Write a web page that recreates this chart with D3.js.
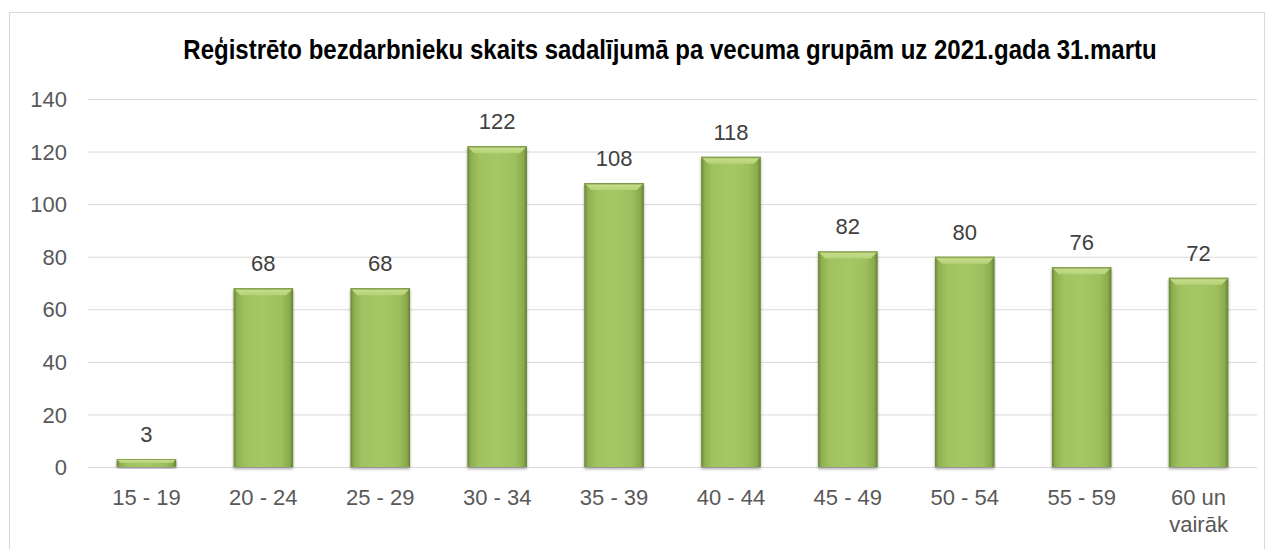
<!DOCTYPE html>
<html><head><meta charset="utf-8">
<script src="https://cdn.jsdelivr.net/npm/d3@7"></script>
<style>body{margin:0;background:#fff}svg{display:block}</style>
</head><body>
<svg id="c" width="1274" height="549"></svg>
<script>
const categories = ["15 - 19","20 - 24","25 - 29","30 - 34","35 - 39","40 - 44","45 - 49","50 - 54","55 - 59","60 un\nvairāk"];
const values = [3,68,68,122,108,118,82,80,76,72];
const yTicks = [0,20,40,60,80,100,120,140];
const title = "Reģistrēto bezdarbnieku skaits sadalījumā pa vecuma grupām uz 2021.gada 31.martu";

const svg = d3.select("#c");
const font = "'Liberation Sans', Arial, sans-serif";
svg.append("rect").attr("x",9.5).attr("y",12.5).attr("width",1255).attr("height",560)
  .attr("fill","#fff").attr("stroke","#d9d9d9");

const m = {left:88, right:1257, top:99, bottom:467};
const x = d3.scaleBand().domain(categories).range([m.left,m.right]).paddingInner(0.49).paddingOuter(0.245);
const y = d3.scaleLinear().domain([0,140]).range([m.bottom,m.top]);

const defs = svg.append("defs");
const g1 = defs.append("linearGradient").attr("id","gh").attr("x1","0").attr("x2","1").attr("y1","0").attr("y2","0");
[[0,"#6a8636"],[0.06,"#8fb050"],[0.2,"#a0c260"],[0.5,"#a6c766"],[0.8,"#9ebf5d"],[0.94,"#8aab4c"],[1,"#657f33"]]
  .forEach(([o,c])=>g1.append("stop").attr("offset",o).attr("stop-color",c));
const gt = defs.append("linearGradient").attr("id","gt").attr("x1","0").attr("x2","0").attr("y1","0").attr("y2","1");
[[0,"#6f8b3a"],[0.3,"#c4dc88"],[1,"#b5d277"]].forEach(([o,c])=>gt.append("stop").attr("offset",o).attr("stop-color",c));
const f = defs.append("filter").attr("id","sh").attr("x","-20%").attr("y","-20%").attr("width","140%").attr("height","140%");
f.append("feGaussianBlur").attr("in","SourceAlpha").attr("stdDeviation",1.5);
f.append("feOffset").attr("dx",0).attr("dy",1.5).attr("result","b");
f.append("feComponentTransfer").append("feFuncA").attr("type","linear").attr("slope",0.35);
const fm = f.append("feMerge"); fm.append("feMergeNode"); fm.append("feMergeNode").attr("in","SourceGraphic");

// grid
svg.append("g").selectAll("line").data(yTicks).join("line")
  .attr("x1",m.left).attr("x2",m.right).attr("y1",d=>y(d)+0.5).attr("y2",d=>y(d)+0.5)
  .attr("stroke","#d9d9d9").attr("stroke-width",1);

// y axis
const ya = svg.append("g").attr("transform",`translate(${m.left},0)`)
  .call(d3.axisLeft(y).tickValues(yTicks).tickSize(0).tickPadding(21));
ya.select(".domain").remove();
ya.selectAll("text").attr("font-family",font).attr("font-size",22).attr("fill","#595959").attr("dy","0.35em");

// bars
const bars = svg.append("g").selectAll("g").data(values).join("g").attr("filter","url(#sh)");
bars.append("rect").attr("x",(d,i)=>x(categories[i])).attr("y",d=>y(d)).attr("width",x.bandwidth())
  .attr("height",d=>y(0)-y(d)).attr("fill","url(#gh)");
bars.each(function(d,i){
  const x0 = x(categories[i]), w = x.bandwidth(), t = y(d), h = y(0)-y(d);
  const b = Math.min(7, h/2);
  d3.select(this).append("path")
    .attr("d",`M${x0},${t}L${x0+w},${t}L${x0+w-b},${t+b}L${x0+b},${t+b}Z`).attr("fill","url(#gt)");
});

// labels
svg.append("g").selectAll("text").data(values).join("text")
  .attr("x",(d,i)=>x(categories[i])+x.bandwidth()/2).attr("y",d=>y(d)-17)
  .attr("text-anchor","middle").attr("font-family",font).attr("font-size",22).attr("fill","#404040")
  .text(d=>d);

// x axis
const xa = svg.append("g").attr("transform",`translate(0,${m.bottom})`)
  .call(d3.axisBottom(x).tickSize(0).tickPadding(0).tickFormat(""));
xa.select(".domain").remove();
xa.selectAll(".tick").each(function(d){
  const t = d3.select(this).append("text").attr("font-family",font).attr("font-size",22).attr("fill","#595959")
    .attr("text-anchor","middle");
  d.split("\n").forEach((s,k)=>t.append("tspan").attr("x",0).attr("y",38+k*27).text(s));
});

// title (condensed horizontally to match the reference's narrow bold face)
const tg = svg.append("g");
const tt = tg.append("text").attr("x",0).attr("y",0).attr("text-anchor","middle").attr("font-family",font)
  .attr("font-weight","bold").attr("font-size",27).attr("fill","#000").text(title);
const natural = tt.node().getComputedTextLength();
const sx = Math.min(1, 974 / natural);
tg.attr("transform",`translate(670,59) scale(${sx},1)`);
</script>
</body></html>
